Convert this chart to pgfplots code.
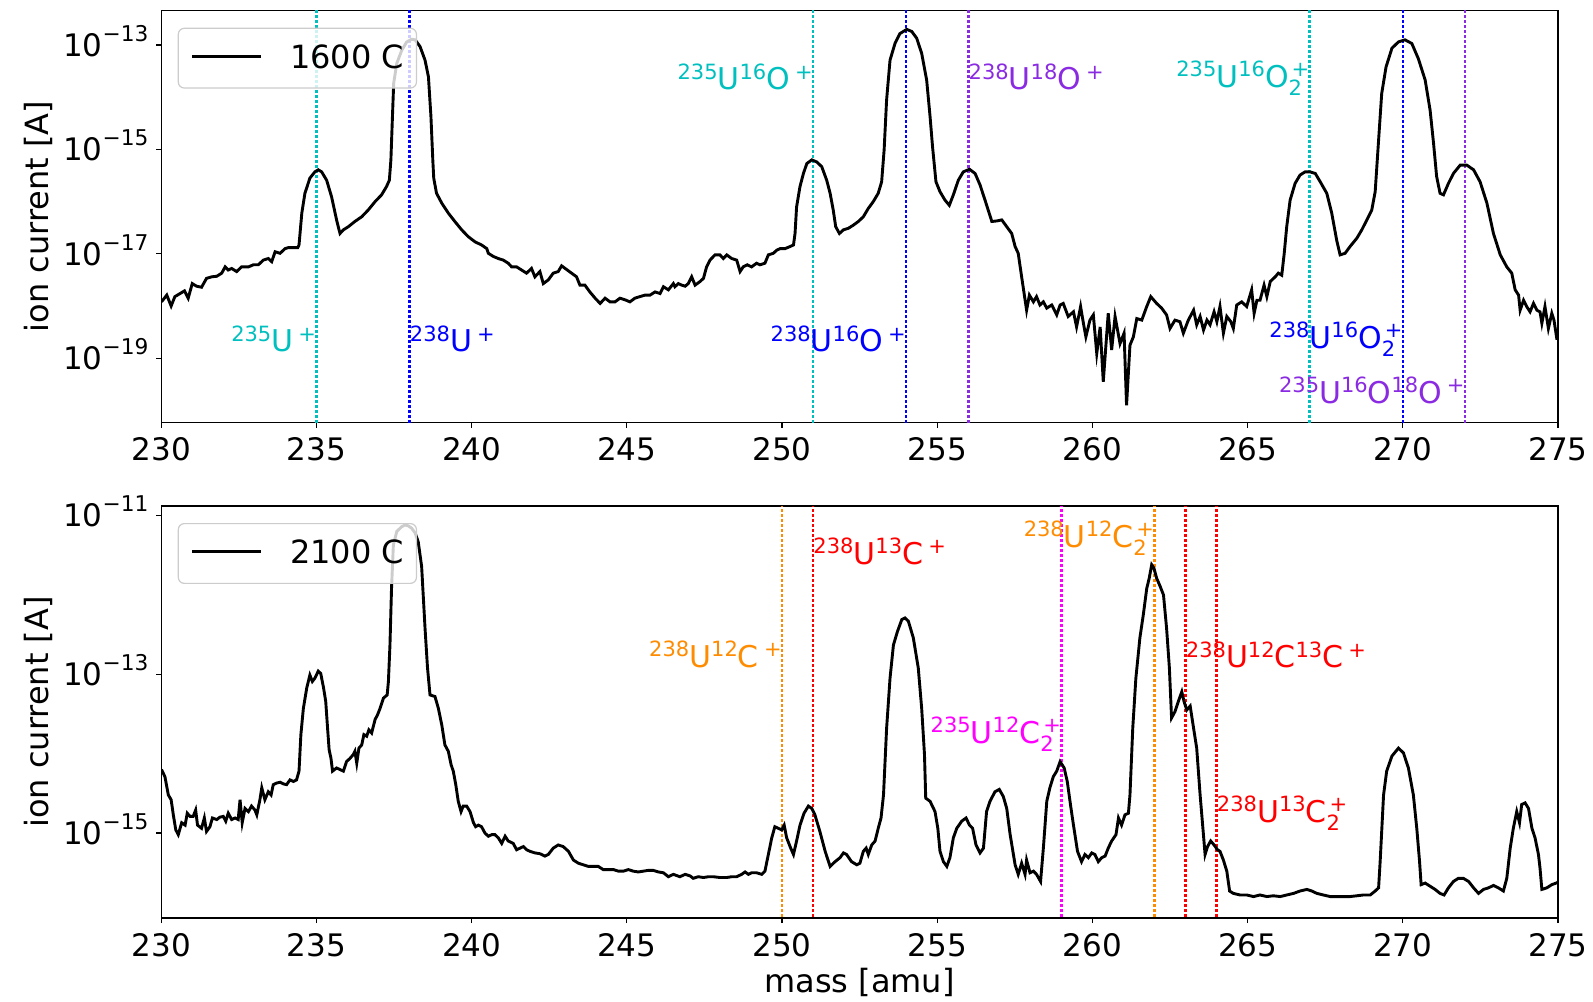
\documentclass[border=0pt]{standalone}
\usepackage{fontspec}
\setmainfont{DejaVu Sans}
\usepackage{graphicx}
\usepackage{pgfplots}
\usepackage{pgfplotstable}
\pgfplotsset{compat=1.18}
\definecolor{mplc}{HTML}{00BFBF}
\definecolor{mplb}{HTML}{0000FF}
\definecolor{bviolet}{HTML}{8A2BE2}
\definecolor{dorange}{HTML}{FF8C00}
\definecolor{mred}{HTML}{FF0000}
\definecolor{mmag}{HTML}{FF00FF}
\newcommand\sups[1]{\raisebox{0.36em}{\scalebox{0.7}{#1}}}
\newcommand\subs[1]{\raisebox{-0.26em}{\scalebox{0.7}{#1}}}
\newcommand\pl{\hspace{0.17em}\sups{+}}
\newcommand\subsup[2]{\makebox[0pt][l]{\subs{#1}}\hspace{0.1em}\sups{#2}}
\newcommand\tsup[1]{\raisebox{0.48em}{\scalebox{0.7}{#1}}}
\newcommand\tl[1]{10\tsup{−#1}}
\tikzset{
  vl/.style={line width=1.3pt, dash pattern=on 1.25pt off 1.25pt},
  lab/.style={font=\fontsize{15}{18}\selectfont, inner sep=0pt},
}

% log10 of ion current [A] versus mass [amu]
\pgfplotstableread{
m L
230.01 -17.92
230.18 -17.79
230.32 -18.00
230.44 -17.82
230.61 -17.76
230.75 -17.71
230.87 -17.85
231.00 -17.57
231.14 -17.62
231.30 -17.64
231.46 -17.47
231.63 -17.44
231.79 -17.43
231.95 -17.37
232.06 -17.25
232.16 -17.31
232.27 -17.28
232.43 -17.34
232.59 -17.25
232.81 -17.25
232.97 -17.21
233.13 -17.21
233.29 -17.12
233.45 -17.09
233.56 -17.15
233.67 -16.96
233.83 -16.99
233.99 -16.90
234.10 -16.88
234.26 -16.88
234.40 -16.88
234.44 -16.83
234.53 -16.22
234.63 -15.84
234.79 -15.55
234.95 -15.43
235.06 -15.39
235.17 -15.43
235.33 -15.59
235.49 -15.91
235.65 -16.35
235.76 -16.61
235.87 -16.54
236.03 -16.48
236.24 -16.38
236.46 -16.29
236.67 -16.16
236.89 -16.00
237.10 -15.87
237.26 -15.71
237.35 -15.59
237.40 -15.20
237.45 -14.37
237.49 -13.73
237.59 -13.35
237.75 -13.10
237.91 -12.94
238.07 -12.89
238.18 -12.90
238.34 -13.03
238.50 -13.29
238.61 -13.61
238.69 -14.37
238.75 -15.20
238.78 -15.55
238.87 -15.84
239.04 -16.03
239.25 -16.22
239.46 -16.38
239.68 -16.54
239.89 -16.67
240.11 -16.77
240.32 -16.83
240.49 -16.90
240.54 -16.99
240.70 -17.05
240.86 -17.09
241.02 -17.12
241.18 -17.18
241.29 -17.25
241.45 -17.25
241.61 -17.31
241.77 -17.37
241.93 -17.28
242.04 -17.44
242.20 -17.34
242.31 -17.57
242.47 -17.50
242.63 -17.37
242.79 -17.34
242.90 -17.23
243.06 -17.30
243.22 -17.37
243.38 -17.44
243.49 -17.60
243.65 -17.60
243.81 -17.73
243.98 -17.85
244.14 -17.95
244.30 -17.85
244.46 -17.92
244.62 -17.92
244.78 -17.85
244.94 -17.88
245.10 -17.92
245.26 -17.85
245.42 -17.82
245.59 -17.79
245.75 -17.79
245.91 -17.73
246.07 -17.76
246.18 -17.63
246.34 -17.69
246.50 -17.57
246.55 -17.63
246.66 -17.57
246.77 -17.60
246.88 -17.62
246.98 -17.57
247.09 -17.44
247.20 -17.60
247.36 -17.53
247.47 -17.47
247.57 -17.25
247.68 -17.12
247.84 -17.02
248.00 -17.02
248.11 -17.09
248.22 -17.02
248.38 -17.09
248.54 -17.12
248.65 -17.34
248.75 -17.25
248.88 -17.21
249.02 -17.25
249.18 -17.18
249.29 -17.21
249.45 -17.18
249.56 -17.02
249.72 -16.99
249.83 -16.93
249.94 -16.90
250.10 -16.90
250.26 -16.86
250.37 -16.83
250.42 -16.61
250.47 -16.10
250.58 -15.71
250.69 -15.46
250.80 -15.27
250.96 -15.20
251.12 -15.24
251.28 -15.33
251.44 -15.59
251.55 -15.84
251.65 -16.16
251.73 -16.48
251.85 -16.61
251.98 -16.54
252.14 -16.51
252.30 -16.45
252.46 -16.38
252.62 -16.29
252.78 -16.13
252.94 -16.00
253.10 -15.84
253.21 -15.62
253.29 -15.01
253.37 -14.05
253.48 -13.29
253.64 -12.97
253.80 -12.78
254.02 -12.70
254.18 -12.74
254.34 -12.87
254.50 -13.16
254.66 -13.67
254.77 -14.37
254.85 -14.95
254.96 -15.62
255.09 -15.81
255.25 -15.97
255.39 -16.07
255.52 -15.87
255.68 -15.59
255.84 -15.43
256.04 -15.38
256.22 -15.46
256.38 -15.68
256.54 -15.97
256.76 -16.38
256.92 -16.37
257.08 -16.35
257.24 -16.48
257.40 -16.61
257.51 -16.86
257.61 -16.99
257.72 -17.44
257.80 -17.76
257.88 -18.08
257.97 -17.79
258.10 -17.92
258.20 -17.82
258.31 -17.98
258.42 -17.92
258.53 -18.04
258.69 -17.98
258.85 -18.17
258.96 -17.98
259.06 -17.95
259.22 -18.20
259.39 -18.11
259.49 -18.40
259.62 -18.01
259.71 -18.33
259.79 -18.59
259.92 -18.27
260.03 -18.17
260.14 -18.91
260.25 -18.40
260.35 -19.45
260.51 -18.14
260.62 -18.84
260.73 -18.20
260.89 -18.72
261.02 -18.52
261.10 -19.90
261.21 -18.75
261.32 -18.59
261.43 -18.24
261.59 -18.27
261.75 -18.01
261.88 -17.82
262.07 -17.95
262.23 -18.04
262.39 -18.17
262.50 -18.43
262.66 -18.27
262.82 -18.30
262.93 -18.52
263.09 -18.27
263.26 -18.08
263.36 -18.36
263.47 -18.20
263.58 -18.46
263.69 -18.27
263.79 -18.36
263.92 -18.11
264.01 -18.30
264.11 -18.01
264.22 -18.52
264.33 -18.20
264.46 -18.30
264.54 -18.43
264.65 -17.98
264.81 -17.92
264.97 -18.01
265.13 -17.69
265.21 -18.14
265.30 -17.89
265.40 -17.89
265.53 -17.60
265.62 -17.82
265.73 -17.53
265.89 -17.44
265.99 -17.37
266.10 -17.41
266.18 -16.99
266.26 -16.48
266.37 -15.97
266.53 -15.65
266.69 -15.49
266.85 -15.43
267.01 -15.43
267.18 -15.46
267.34 -15.62
267.55 -15.84
267.71 -16.22
267.87 -16.74
267.98 -17.02
268.14 -16.99
268.30 -16.86
268.52 -16.70
268.68 -16.54
268.84 -16.35
269.00 -16.16
269.11 -15.81
269.22 -14.82
269.32 -13.93
269.46 -13.42
269.65 -13.06
269.86 -12.94
270.07 -12.90
270.29 -12.97
270.50 -13.26
270.72 -13.67
270.88 -14.25
270.99 -14.88
271.09 -15.52
271.20 -15.84
271.31 -15.87
271.47 -15.65
271.63 -15.46
271.85 -15.30
272.06 -15.30
272.28 -15.39
272.49 -15.62
272.71 -16.03
272.92 -16.61
273.14 -17.02
273.35 -17.25
273.51 -17.37
273.62 -17.69
273.73 -17.79
273.78 -18.08
273.89 -17.89
273.99 -18.01
274.10 -18.11
274.21 -17.95
274.32 -18.08
274.42 -18.11
274.48 -18.33
274.58 -18.01
274.69 -18.43
274.80 -18.14
274.87 -18.27
274.96 -18.62
275.00 -18.62
}\topdata

\pgfplotstableread{
m L
230.01 -14.20
230.12 -14.29
230.23 -14.52
230.32 -14.58
230.39 -14.77
230.47 -14.96
230.55 -15.02
230.66 -14.87
230.77 -14.90
230.84 -14.75
230.93 -14.79
231.03 -14.79
231.11 -14.71
231.17 -14.90
231.30 -14.94
231.39 -14.81
231.46 -14.98
231.57 -14.92
231.65 -14.81
231.79 -14.83
231.89 -14.80
232.00 -14.79
232.08 -14.85
232.16 -14.75
232.27 -14.83
232.38 -14.81
232.48 -14.83
232.54 -14.58
232.61 -14.87
232.70 -14.69
232.81 -14.73
232.91 -14.66
233.02 -14.71
233.08 -14.77
233.18 -14.58
233.24 -14.43
233.34 -14.58
233.45 -14.48
233.54 -14.52
233.61 -14.39
233.72 -14.37
233.83 -14.36
233.93 -14.38
234.04 -14.39
234.15 -14.33
234.26 -14.35
234.36 -14.33
234.44 -14.22
234.50 -13.76
234.58 -13.43
234.69 -13.17
234.79 -13.01
234.87 -13.09
234.95 -13.05
235.06 -12.96
235.14 -12.99
235.23 -13.17
235.30 -13.34
235.36 -13.68
235.41 -13.95
235.47 -14.06
235.52 -14.22
235.65 -14.18
235.76 -14.20
235.87 -14.22
235.97 -14.10
236.08 -14.06
236.19 -14.01
236.24 -13.97
236.30 -14.12
236.37 -13.93
236.46 -13.89
236.53 -13.76
236.62 -13.78
236.69 -13.70
236.78 -13.74
236.89 -13.57
236.97 -13.51
237.05 -13.43
237.16 -13.30
237.28 -13.26
237.32 -13.09
237.37 -12.63
237.42 -11.92
237.48 -11.37
237.59 -11.20
237.75 -11.14
237.85 -11.12
237.96 -11.13
238.07 -11.16
238.18 -11.22
238.28 -11.33
238.39 -11.64
238.50 -12.42
238.58 -12.92
238.66 -13.26
238.82 -13.28
238.93 -13.43
239.04 -13.64
239.14 -13.89
239.25 -13.97
239.34 -14.14
239.41 -14.22
239.49 -14.39
239.57 -14.60
239.66 -14.73
239.73 -14.66
239.84 -14.66
239.95 -14.73
240.06 -14.87
240.13 -14.92
240.22 -14.90
240.32 -14.92
240.43 -15.00
240.54 -15.04
240.65 -15.02
240.75 -15.02
240.86 -15.06
240.97 -15.13
241.08 -15.04
241.18 -15.10
241.34 -15.13
241.45 -15.21
241.56 -15.19
241.67 -15.17
241.77 -15.21
241.88 -15.23
242.04 -15.25
242.20 -15.26
242.36 -15.29
242.47 -15.27
242.63 -15.19
242.79 -15.15
242.95 -15.17
243.12 -15.23
243.28 -15.34
243.44 -15.38
243.60 -15.40
243.76 -15.42
243.92 -15.42
244.08 -15.42
244.24 -15.46
244.40 -15.46
244.57 -15.46
244.73 -15.48
244.89 -15.48
245.05 -15.46
245.21 -15.48
245.37 -15.49
245.53 -15.48
245.69 -15.47
245.85 -15.47
246.02 -15.49
246.18 -15.50
246.34 -15.55
246.50 -15.52
246.71 -15.55
246.88 -15.52
247.04 -15.54
247.14 -15.57
247.30 -15.55
247.47 -15.56
247.63 -15.55
247.79 -15.55
248.00 -15.56
248.22 -15.56
248.38 -15.55
248.54 -15.55
248.70 -15.52
248.81 -15.49
248.92 -15.52
249.02 -15.50
249.18 -15.50
249.35 -15.52
249.45 -15.48
249.56 -15.27
249.67 -15.06
249.77 -14.92
249.88 -14.94
249.99 -14.96
250.07 -14.90
250.15 -15.06
250.28 -15.19
250.37 -15.27
250.47 -15.10
250.58 -14.90
250.71 -14.75
250.85 -14.66
250.96 -14.69
251.06 -14.77
251.22 -14.98
251.39 -15.23
251.55 -15.42
251.71 -15.36
251.87 -15.31
251.98 -15.25
252.08 -15.27
252.24 -15.36
252.41 -15.40
252.51 -15.38
252.62 -15.23
252.71 -15.19
252.78 -15.27
252.89 -15.15
253.00 -15.10
253.10 -14.94
253.19 -14.81
253.27 -14.52
253.37 -13.68
253.48 -13.05
253.59 -12.63
253.72 -12.46
253.86 -12.31
253.96 -12.29
254.07 -12.33
254.23 -12.54
254.39 -12.92
254.50 -13.43
254.59 -14.01
254.63 -14.56
254.77 -14.60
254.93 -14.73
255.02 -14.94
255.09 -15.23
255.20 -15.36
255.31 -15.42
255.41 -15.31
255.52 -15.06
255.63 -14.94
255.79 -14.85
255.93 -14.81
256.04 -14.90
256.14 -14.94
256.25 -15.15
256.38 -15.25
256.49 -15.19
256.59 -14.73
256.70 -14.60
256.86 -14.48
257.00 -14.45
257.13 -14.54
257.24 -14.69
257.35 -15.02
257.51 -15.40
257.61 -15.52
257.72 -15.38
257.83 -15.52
257.88 -15.34
257.99 -15.50
258.10 -15.48
258.20 -15.52
258.33 -15.61
258.42 -15.19
258.53 -14.60
258.63 -14.43
258.74 -14.29
258.85 -14.22
258.96 -14.10
259.09 -14.18
259.19 -14.35
259.30 -14.66
259.39 -14.90
259.52 -15.23
259.65 -15.36
259.76 -15.27
259.87 -15.31
259.98 -15.25
260.08 -15.27
260.19 -15.36
260.30 -15.31
260.41 -15.29
260.51 -15.19
260.62 -15.10
260.76 -15.02
260.84 -14.81
260.94 -14.90
261.05 -14.77
261.16 -14.75
261.21 -14.52
261.30 -13.68
261.40 -13.05
261.53 -12.54
261.64 -12.25
261.75 -11.92
261.83 -11.79
261.91 -11.62
261.98 -11.66
262.07 -11.79
262.18 -11.89
262.29 -12.00
262.39 -12.42
262.48 -12.92
262.55 -13.55
262.66 -13.47
262.77 -13.34
262.88 -13.22
262.95 -13.34
263.04 -13.45
263.15 -13.40
263.26 -13.68
263.36 -13.93
263.47 -14.52
263.56 -14.94
263.63 -15.27
263.71 -15.17
263.81 -15.10
263.92 -15.15
264.03 -15.21
264.11 -15.23
264.22 -15.34
264.33 -15.48
264.42 -15.73
264.54 -15.76
264.76 -15.78
264.97 -15.78
265.19 -15.80
265.40 -15.78
265.62 -15.80
265.83 -15.79
266.05 -15.80
266.26 -15.78
266.48 -15.76
266.69 -15.73
266.91 -15.71
267.07 -15.73
267.23 -15.76
267.44 -15.78
267.66 -15.80
267.87 -15.80
268.09 -15.80
268.30 -15.80
268.52 -15.79
268.73 -15.78
268.95 -15.78
269.11 -15.73
269.22 -15.69
269.27 -15.36
269.38 -14.52
269.48 -14.22
269.65 -14.03
269.86 -13.93
270.02 -13.99
270.18 -14.18
270.34 -14.52
270.45 -14.94
270.54 -15.36
270.59 -15.65
270.72 -15.63
270.88 -15.67
271.04 -15.71
271.20 -15.76
271.33 -15.78
271.47 -15.69
271.63 -15.61
271.79 -15.57
271.95 -15.57
272.12 -15.61
272.28 -15.69
272.44 -15.76
272.60 -15.71
272.76 -15.69
272.92 -15.66
273.08 -15.69
273.24 -15.73
273.35 -15.57
273.46 -15.19
273.56 -14.94
273.67 -14.73
273.76 -14.87
273.83 -14.64
273.94 -14.62
274.05 -14.69
274.16 -14.94
274.26 -15.06
274.37 -15.27
274.42 -15.44
274.48 -15.71
274.64 -15.69
274.80 -15.65
274.94 -15.63
275.00 -15.62
}\botdata

\pgfplotsset{
  myax/.style={
    scale only axis, width=698.4pt, height=206pt,
    xmin=230, xmax=275,
    xtick={230,235,...,275},
    xticklabels={230,235,240,245,250,255,260,265,270,275},
    tick align=outside, tick pos=left,
    major tick length=2.5pt,
    every tick/.style={black, line width=0.6pt},
    axis line style={black, line width=0.6pt},
    xticklabel style={font=\fontsize{15.5}{18}\selectfont, anchor=north, inner sep=0pt, yshift=-4.8pt},
    yticklabel style={font=\fontsize{15.5}{18}\selectfont, anchor=base east, inner sep=0pt, xshift=-3.7pt, yshift=-5.65pt},
    ylabel={ion current [A]},
    every axis y label/.style={at={(axis description cs:-0.0807,0.5)}, rotate=90, anchor=base, font=\fontsize{16}{19}\selectfont},
    clip mode=individual,
    legend style={at={(axis description cs:0,1)}, anchor=north west, xshift=8.25pt, yshift=-8.5pt,
      draw=black!20, line width=0.6pt, rounded corners=3pt, fill=white, fill opacity=0.8, text opacity=1,
      inner xsep=6.15pt, inner ysep=8pt, column sep=0pt, row sep=0pt,
      font=\fontsize{16}{19}\selectfont,
      nodes={inner sep=0pt, text depth=2pt}},
    legend cell align=left,
    legend image code/.code={\draw[#1, line width=1.45pt] (0pt,1pt) -- (34.5pt,1pt); \path (48.35pt,0pt);},
  }
}

\begin{document}
\begin{tikzpicture}
\begin{axis}[myax, at={(80.6pt,289.15pt)}, anchor=south west,
  ymin=-20.235, ymax=-12.342,
  ytick={-19,-17,-15,-13},
  yticklabels={\tl{19},\tl{17},\tl{15},\tl{13}}]
\addplot[vl, mplc, forget plot] coordinates {(235,-21) (235,-12)};
\addplot[vl, mplb, forget plot] coordinates {(238,-21) (238,-12)};
\addplot[vl, mplc, forget plot] coordinates {(251,-21) (251,-12)};
\addplot[vl, mplb, forget plot] coordinates {(254,-21) (254,-12)};
\addplot[vl, bviolet, forget plot] coordinates {(256,-21) (256,-12)};
\addplot[vl, mplc, forget plot] coordinates {(267,-21) (267,-12)};
\addplot[vl, mplb, forget plot] coordinates {(270,-21) (270,-12)};
\addplot[vl, bviolet, forget plot] coordinates {(272,-21) (272,-12)};
\addplot[black, line width=1.45pt] table[x=m, y=L] {\topdata};
\addlegendentry{1600 C\hspace{2pt}}
\node[lab, anchor=base east, mplc] at (axis cs:235,-18.88) {\sups{235}U\pl};
\node[lab, anchor=base west, mplb] at (axis cs:238,-18.88) {\sups{238}U\pl};
\node[lab, anchor=base east, mplc] at (axis cs:251,-13.86) {\sups{235}U\sups{16}O\pl};
\node[lab, anchor=base east, mplb] at (axis cs:254,-18.88) {\sups{238}U\sups{16}O\pl};
\node[lab, anchor=base west, bviolet] at (axis cs:256,-13.86) {\sups{238}U\sups{18}O\pl};
\node[lab, anchor=base east, mplc] at (axis cs:267,-13.81) {\sups{235}U\sups{16}O\subsup{2}{+}};
\node[lab, anchor=base east, mplb] at (axis cs:270,-18.81) {\sups{238}U\sups{16}O\subsup{2}{+}};
\node[lab, anchor=base east, bviolet] at (axis cs:272,-19.86) {\sups{235}U\sups{16}O\sups{18}O\pl};
\end{axis}

\begin{axis}[myax, at={(80.6pt,41.5pt)}, anchor=south west,
  ymin=-16.07, ymax=-10.88,
  ytick={-15,-13,-11},
  yticklabels={\tl{15},\tl{13},\tl{11}},
  xlabel={mass [amu]},
  every axis x label/.style={at={(axis description cs:0.5,0)}, anchor=base, yshift=-37pt, font=\fontsize{16}{19}\selectfont}]
\addplot[vl, dorange, forget plot] coordinates {(250,-17) (250,-10)};
\addplot[vl, mred, forget plot] coordinates {(251,-17) (251,-10)};
\addplot[vl, mmag, forget plot] coordinates {(259,-17) (259,-10)};
\addplot[vl, dorange, forget plot] coordinates {(262,-17) (262,-10)};
\addplot[vl, mred, forget plot] coordinates {(263,-17) (263,-10)};
\addplot[vl, mred, forget plot] coordinates {(264,-17) (264,-10)};
\addplot[black, line width=1.45pt] table[x=m, y=L] {\botdata};
\addlegendentry{2100 C\hspace{2pt}}
\node[lab, anchor=base east, dorange] at (axis cs:250,-12.91) {\sups{238}U\sups{12}C\pl};
\node[lab, anchor=base west, mred] at (axis cs:251,-11.62) {\sups{238}U\sups{13}C\pl};
\node[lab, anchor=base east, dorange] at (axis cs:262,-11.40) {\sups{238}U\sups{12}C\subsup{2}{+}};
\node[lab, anchor=base east, mmag] at (axis cs:259,-13.87) {\sups{235}U\sups{12}C\subsup{2}{+}};
\node[lab, anchor=base west, mred] at (axis cs:263,-12.92) {\sups{238}U\sups{12}C\sups{13}C\pl};
\node[lab, anchor=base west, mred] at (axis cs:264,-14.87) {\sups{238}U\sups{13}C\subsup{2}{+}};
\end{axis}
\pgfresetboundingbox
\path[use as bounding box] (0pt,0pt) rectangle (796.5pt,500.5pt);
\end{tikzpicture}
\end{document}
